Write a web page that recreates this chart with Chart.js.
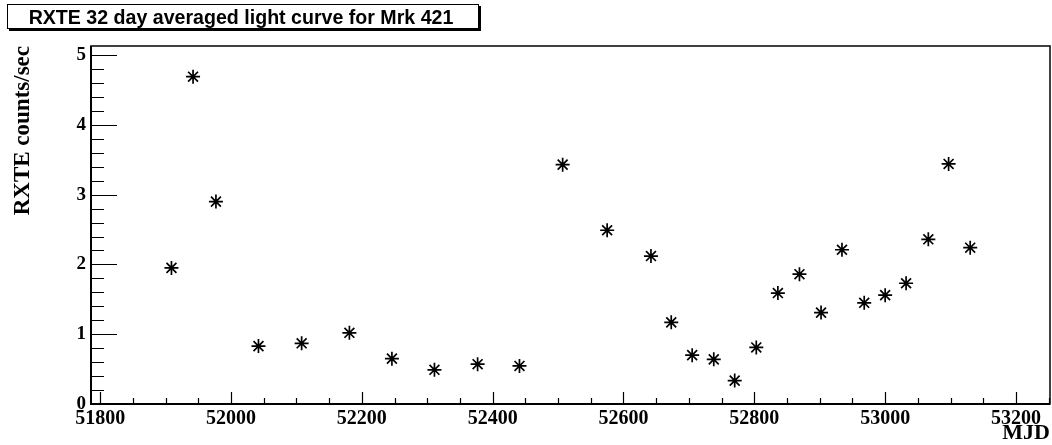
<!DOCTYPE html>
<html>
<head>
<meta charset="utf-8">
<title>RXTE 32 day averaged light curve for Mrk 421</title>
<script src="https://cdn.jsdelivr.net/npm/chart.js@4/dist/chart.umd.min.js"></script>
<style>
  html, body { margin: 0; padding: 0; background: #fff; }
  canvas { display: block; }
</style>
</head>
<body>
<canvas id="lc" width="1052" height="445"></canvas>
<script>
// Text
const chartTitle = 'RXTE 32 day averaged light curve for Mrk 421';
const xTitle = 'MJD';
const yTitle = 'RXTE counts/sec';

// 32-day averaged count rates (MJD, counts/sec)
const mjd = [51909, 51942, 51977, 52042, 52108, 52181, 52246, 52311, 52377, 52441,
             52507, 52575, 52642, 52673, 52705, 52738, 52770, 52803, 52836, 52869,
             52902, 52934, 52968, 53000, 53032, 53066, 53097, 53130];
const rate = [1.95, 4.69, 2.90, 0.83, 0.87, 1.02, 0.65, 0.49, 0.57, 0.545,
              3.43, 2.49, 2.12, 1.17, 0.70, 0.64, 0.335, 0.81, 1.59, 1.86,
              1.31, 2.21, 1.45, 1.56, 1.73, 2.36, 3.44, 2.24];

// Axis labels and ranges
const xTicks = [51800, 52000, 52200, 52400, 52600, 52800, 53000, 53200];
const yTicks = [0, 1, 2, 3, 4, 5];
const xRange = [51786, 53252];
const yRange = [0, 5.13];

const serif = "'Liberation Serif', 'Times New Roman', Times, serif";
const sans = "'Liberation Sans', Arial, Helvetica, sans-serif";

// Frame, inward tick marks and the boxed title
const framePlugin = {
  id: 'frame',
  beforeDraw(chart) {
    const ctx = chart.ctx;
    ctx.save();
    ctx.fillStyle = '#fff';
    ctx.fillRect(0, 0, chart.width, chart.height);
    ctx.restore();
  },
  afterDraw(chart) {
    const ctx = chart.ctx;
    const a = chart.chartArea;
    const xs = chart.scales.x, ys = chart.scales.y;
    ctx.save();

    // frame
    ctx.strokeStyle = '#111';
    ctx.lineWidth = 1.6;
    ctx.strokeRect(a.left, a.top, a.right - a.left, a.bottom - a.top);
    ctx.strokeStyle = '#000';
    ctx.lineWidth = 2;
    ctx.beginPath();
    ctx.moveTo(a.left, a.top);
    ctx.lineTo(a.left, a.bottom);
    ctx.lineTo(a.right, a.bottom);
    ctx.stroke();

    // x ticks: major every 200, minor every 50
    ctx.lineWidth = 1.2;
    ctx.beginPath();
    for (let v = Math.ceil(xRange[0] / 50) * 50; v <= xRange[1]; v += 50) {
      const px = Math.round(xs.getPixelForValue(v)) + 0.5;
      const len = (v % 200 === 0) ? 12 : 6;
      ctx.moveTo(px, a.bottom);
      ctx.lineTo(px, a.bottom - len);
    }
    // y ticks: major every 1, minor every 0.2
    for (let i = 0; i / 5 <= yRange[1]; i++) {
      const py = Math.round(ys.getPixelForValue(i / 5)) + 0.5;
      const len = (i % 5 === 0) ? 26 : 13;
      ctx.moveTo(a.left, py);
      ctx.lineTo(a.left + len, py);
    }
    ctx.stroke();

    // title box with drop shadow
    const bx = 7, by = 4, bw = 472, bh = 25;
    ctx.fillStyle = '#000';
    ctx.fillRect(bx + 2, by + 2, bw, bh);
    ctx.fillStyle = '#fff';
    ctx.fillRect(bx, by, bw, bh);
    ctx.strokeStyle = '#000';
    ctx.lineWidth = 1;
    ctx.strokeRect(bx + 0.5, by + 0.5, bw - 1, bh - 1);
    ctx.fillStyle = '#000';
    ctx.font = 'bold 19.6px ' + sans;
    ctx.textAlign = 'center';
    ctx.textBaseline = 'alphabetic';
    ctx.fillText(chartTitle, bx + bw / 2 - 2, 24);

    ctx.restore();
  }
};

new Chart(document.getElementById('lc'), {
  type: 'scatter',
  data: {
    datasets: [{
      data: mjd.map((x, i) => ({ x: x, y: rate[i] })),
      pointStyle: 'star',
      pointRadius: 7,
      pointHoverRadius: 7,
      pointBorderWidth: 1.7,
      borderColor: '#000',
      backgroundColor: '#000',
      showLine: false
    }]
  },
  options: {
    responsive: false,
    animation: false,
    events: [],
    layout: { autoPadding: false, padding: { top: 46, right: 2, left: 0, bottom: 0 } },
    plugins: {
      legend: { display: false },
      tooltip: { enabled: false },
      title: { display: false }
    },
    scales: {
      x: {
        type: 'linear',
        position: 'bottom',
        min: xRange[0],
        max: xRange[1],
        grid: { display: false, drawTicks: false },
        border: { display: false },
        ticks: {
          color: '#000',
          font: { family: serif, size: 20, weight: 'bold', lineHeight: 1 },
          padding: 5,
          maxRotation: 0,
          autoSkip: false,
          callback: v => String(v)
        },
        afterBuildTicks: s => { s.ticks = xTicks.map(v => ({ value: v })); },
        afterFit: s => { s.height = 41; s.paddingLeft = 0; s.paddingRight = 0; },
        title: {
          display: true,
          text: xTitle,
          align: 'end',
          color: '#000',
          font: { family: serif, size: 22, weight: 'bold', lineHeight: 1 },
          padding: { top: 0, bottom: 1 }
        }
      },
      y: {
        type: 'linear',
        position: 'left',
        min: yRange[0],
        max: yRange[1],
        grid: { display: false, drawTicks: false },
        border: { display: false },
        ticks: {
          color: '#000',
          font: { family: serif, size: 19, weight: 'bold', lineHeight: 1 },
          padding: 5,
          autoSkip: false,
          callback: v => String(v)
        },
        afterBuildTicks: s => { s.ticks = yTicks.map(v => ({ value: v })); },
        afterFit: s => { s.width = 91; s.paddingTop = 0; s.paddingBottom = 0; },
        title: {
          display: true,
          text: yTitle,
          align: 'end',
          color: '#000',
          font: { family: serif, size: 23, weight: 'bold', lineHeight: 1 },
          padding: { top: 11.5, bottom: 0 }
        }
      }
    }
  },
  plugins: [framePlugin]
});
</script>
</body>
</html>
